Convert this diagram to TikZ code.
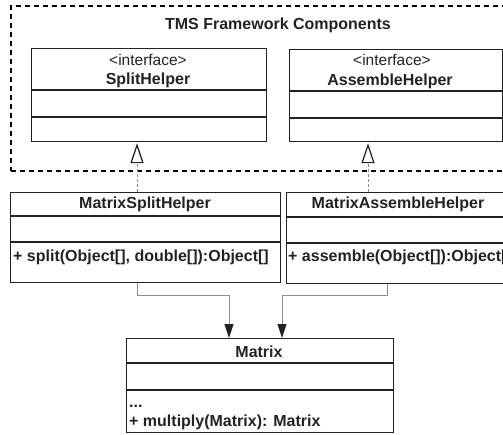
\documentclass[tikz,border=0pt]{standalone}
\usepackage{fontspec}
\setmainfont{Liberation Sans}
\usetikzlibrary{arrows.meta}
\definecolor{ink}{HTML}{222222}
\definecolor{wire}{HTML}{8C8C8C}
\begin{document}
\begin{tikzpicture}[x=1pt,y=-1pt,
  box/.style={draw=ink,line width=1.4pt,anchor=north west,inner sep=0pt,rectangle},
  sepline/.style={draw=ink,line width=1.2pt},
  bt/.style={font=\fontsize{16}{19}\selectfont\bfseries,text=ink,anchor=base,inner sep=0pt},
  rt/.style={font=\fontsize{15.5}{19}\selectfont,text=ink,anchor=base,inner sep=0pt},
  btl/.style={bt,anchor=base west},
  pkgframe/.style={draw=black,line width=2pt,dash pattern=on 5pt off 4pt,anchor=north west,inner sep=0pt,rectangle},
  realize/.style={draw=wire,line width=0.8pt,dash pattern=on 3pt off 2pt,-{Triangle[open,length=20pt,width=13pt,line width=1.2pt,color=ink]}},
  assoc/.style={draw=wire,line width=1pt,-{Triangle[length=14pt,width=9pt,color=ink]}}]
\useasboundingbox (0,0) rectangle (503,434);
\clip (0,0) rectangle (503,434);

% package frame
\node[pkgframe,minimum width=530pt,minimum height=165pt] (fw) at (10,5) {};
\node[bt] (fwt) at (278,29) {TMS Framework Components};

% SplitHelper
\node[box,minimum width=235pt,minimum height=93pt] (sh) at (31,48) {};
\draw[sepline] (31,90) -- (266,90);
\draw[sepline] (31,117) -- (266,117);
\node[rt] (shs) at (148,65) {<interface>};
\node[bt] (shn) at (148,84.5) {SplitHelper};

% AssembleHelper
\node[box,minimum width=212.5pt,minimum height=92pt] (ah) at (289,49) {};
\draw[sepline] (289,91) -- (501.5,91);
\draw[sepline] (289,118) -- (501.5,118);
\node[rt] (ahs) at (392,65) {<interface>};
\node[bt] (ahn) at (390,85) {AssembleHelper};

% MatrixSplitHelper
\node[box,minimum width=270pt,minimum height=90pt] (msh) at (10,192) {};
\draw[sepline] (10,216) -- (280,216);
\draw[sepline] (10,242) -- (280,242);
\node[bt] (mshn) at (145,208) {MatrixSplitHelper};
\node[btl] (msho) at (13,261) {+ split(Object[], double[]):Object[]};

% MatrixAssembleHelper
\node[box,minimum width=230pt,minimum height=91pt] (mah) at (286,192) {};
\draw[sepline] (286,217) -- (516,217);
\draw[sepline] (286,243) -- (516,243);
\node[bt] (mahn) at (398,208) {MatrixAssembleHelper};
\node[btl] (maho) at (288,261) {+ assemble(Object[]):Object[]};

% Matrix
\node[box,minimum width=267pt,minimum height=94pt] (mx) at (126,338) {};
\draw[sepline] (126,363) -- (393,363);
\draw[sepline] (126,390) -- (393,390);
\node[bt] (mxn) at (259,357) {Matrix};
\node[btl] (mxa) at (129,407) {...};
\node[btl] (mxo) at (129,426) {+ multiply(Matrix): Matrix};

% realizations
\coordinate (rs) at (137,0);
\coordinate (ra) at (368,0);
\draw[realize] (msh.north -| rs) -- ([yshift=-0.8pt]sh.south -| rs);
\draw[realize] (mah.north -| ra) -- ([yshift=-0.8pt]ah.south -| ra);

% associations
\coordinate (bs) at (137,295);
\coordinate (ms) at (229,0);
\coordinate (ba) at (387,295);
\coordinate (ma) at (282,0);
\draw[assoc] (msh.south -| bs) -- (bs) -| (mx.north -| ms);
\draw[assoc] (mah.south -| ba) -- (ba) -| (mx.north -| ma);
\end{tikzpicture}
\end{document}
